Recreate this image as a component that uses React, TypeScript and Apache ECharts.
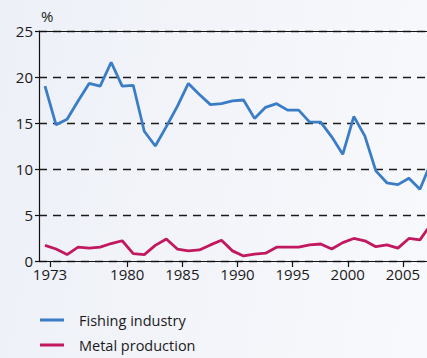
import React, { useEffect, useRef } from "react";
import * as echarts from "echarts";

const years = [
  1973, 1974, 1975, 1976, 1977, 1978, 1979, 1980, 1981, 1982, 1983, 1984,
  1985, 1986, 1987, 1988, 1989, 1990, 1991, 1992, 1993, 1994, 1995, 1996,
  1997, 1998, 1999, 2000, 2001, 2002, 2003, 2004, 2005, 2006, 2007, 2008,
];
const fishingIndustry = [
  19.0, 14.8, 15.4, 17.4, 19.3, 19.0, 21.6, 19.0, 19.1, 14.1, 12.5, 14.6,
  16.8, 19.3, 18.1, 17.0, 17.1, 17.4, 17.5, 15.5, 16.7, 17.1, 16.4, 16.4,
  15.1, 15.1, 13.5, 11.6, 15.7, 13.6, 9.8, 8.5, 8.3, 9.0, 7.8, 10.7,
];
const metalProduction = [
  1.7, 1.3, 0.7, 1.5, 1.4, 1.5, 1.9, 2.2, 0.8, 0.7, 1.7, 2.4,
  1.3, 1.1, 1.2, 1.75, 2.25, 1.1, 0.55, 0.75, 0.85, 1.5, 1.5, 1.5,
  1.75, 1.85, 1.3, 2.0, 2.45, 2.2, 1.55, 1.75, 1.4, 2.45, 2.3, 4.0,
];
const xTickLabels = [1973, 1980, 1985, 1990, 1995, 2000, 2005];
const yTicks = [0, 5, 10, 15, 20, 25];
const seriesNames = ["Fishing industry", "Metal production"];
const unitLabel = "%";

const FONT = "'Open Sans', sans-serif";
const TEXT = "#1a1a1a";

export default function App() {
  const ref = useRef<HTMLDivElement>(null);
  useEffect(() => {
    if (!ref.current) return;
    const chart = echarts.init(ref.current, undefined, { renderer: "svg" });
    chart.setOption({
      animation: false,
      backgroundColor: "transparent",
      textStyle: { fontFamily: FONT },
      grid: {
        left: 39,
        top: 31,
        right: -9,
        bottom: 97,
        outerBoundsMode: "none",
        containLabel: false,
      },
      legend: {
        orient: "vertical",
        left: 40,
        top: 311,
        padding: 0,
        itemWidth: 24,
        itemHeight: 3,
        itemGap: 7,
        icon: "rect",
        textStyle: {
          fontFamily: FONT,
          fontSize: 14.5,
          color: TEXT,
          lineHeight: 18,
          padding: [0, 0, 0, 10],
        },
        data: seriesNames,
      },
      graphic: [
        {
          type: "text",
          left: 41,
          top: 8,
          style: { text: unitLabel, fontFamily: FONT, fontSize: 15, fill: TEXT },
        },
      ],
      xAxis: [
        {
          type: "value",
          position: "top",
          min: years[0] - 0.545,
          max: years[years.length - 1] + 0.455,
          axisLine: { show: true, onZero: false, lineStyle: { color: "#111", width: 1.2 } },
          axisTick: { show: false },
          axisLabel: { show: false },
          splitLine: { show: false },
        },
        {
          type: "value",
          position: "bottom",
          min: years[0] - 1,
          max: years[years.length - 1],
          interval: 1,
          axisLine: { show: true, onZero: false, lineStyle: { color: "#111", width: 1.2 } },
          axisTick: {
            show: true,
            length: 6,
            customValues: xTickLabels,
            lineStyle: { color: "#111", width: 1.2 },
          },
          axisLabel: {
            customValues: xTickLabels,
            formatter: (v: number) => (xTickLabels.includes(v) ? String(v) : ""),
            fontFamily: FONT,
            fontSize: 15,
            color: TEXT,
            margin: 5,
          },
          splitLine: { show: false },
        },
      ],
      yAxis: {
        type: "value",
        min: yTicks[0],
        max: yTicks[yTicks.length - 1],
        interval: 5,
        axisLine: { show: true, lineStyle: { color: "#111", width: 1.2 } },
        axisTick: { show: true, length: 4, lineStyle: { color: "#111", width: 1.2 } },
        axisLabel: {
          fontFamily: FONT,
          fontSize: 15,
          color: TEXT,
          margin: 6,
        },
        splitLine: {
          show: true,
          lineStyle: { color: "#1a1a1a", type: [8, 6], width: 1.3 },
        },
      },
      series: [
        {
          name: seriesNames[0],
          type: "line",
          xAxisIndex: 0,
          data: years.map((y, i) => [y, fishingIndustry[i]]),
          showSymbol: false,
          symbol: "none",
          lineStyle: { color: "#3a7cc5", width: 2.8 },
          itemStyle: { color: "#3a7cc5" },
        },
        {
          name: seriesNames[1],
          type: "line",
          xAxisIndex: 0,
          data: years.map((y, i) => [y, metalProduction[i]]),
          showSymbol: false,
          symbol: "none",
          lineStyle: { color: "#c2185f", width: 2.8 },
          itemStyle: { color: "#c2185f" },
        },
      ],
    });
    return () => chart.dispose();
  }, []);
  return (
    <div
      ref={ref}
      style={{
        position: "fixed",
        left: 0,
        top: 0,
        width: 427,
        height: 358,
        background: "linear-gradient(100deg, #edf0f7 0%, #f3f5fa 55%, #f8f9fc 100%)",
      }}
    />
  );
}
